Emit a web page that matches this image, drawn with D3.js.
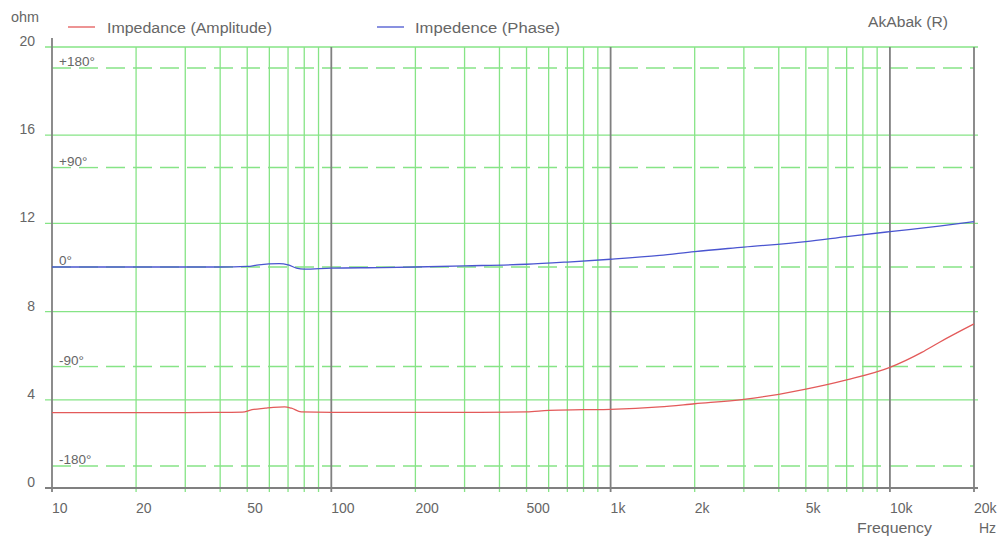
<!DOCTYPE html>
<html><head><meta charset="utf-8">
<script src="https://cdn.jsdelivr.net/npm/d3@7"></script>
<style>body{margin:0;background:#fff}svg{display:block}text{font-family:"Liberation Sans",Arial,sans-serif;fill:#666}</style>
</head><body><svg id="c" width="1001" height="539"></svg>
<script>
// Data
const ampFreq = [10,20,30,40,48,52,58,62,68,72,78,100,200,300,500,600,800,1000,1500,2000,3000,4000,5000,7000,10000,13000,15000,20000];
const ampOhm  = [3.42,3.42,3.42,3.43,3.44,3.55,3.62,3.66,3.68,3.62,3.45,3.43,3.43,3.43,3.45,3.52,3.55,3.57,3.68,3.82,4.02,4.25,4.48,4.9,5.47,6.15,6.6,7.44];
const phaseFreq = [10,20,40,50,55,65,70,75,80,100,150,200,300,500,700,1000,1500,2000,3000,5000,7000,10000,15000,20000];
const phaseDeg  = [0,0,0,0.5,2,3,2,-1,-2,-1,-0.5,0,1,2.5,4.5,7,10.5,14,18,23,27.5,32,37,41];
const ohmTicks = [0,4,8,12,16,20];
const phaseTicks = [180,90,0,-90,-180];
const phaseLabels = ["+180°","+90°","0°","-90°","-180°"];
const freqLabelTicks = [10,20,50,100,200,500,1000,2000,5000,10000,20000];
const freqLabels = ["10","20","50","100","200","500","1k","2k","5k","10k","20k"];
const majorFreqs = [10,100,1000,10000,20000];

const svg = d3.select("#c");
const x = d3.scaleLog().domain([10,20000]).range([52,974]);
const y = d3.scaleLinear().domain([0,20]).range([488,47]);
const yp = d3.scaleLinear().domain([-180,180]).range([466,68]);
const green = "#86e486", gray = "#808080";

const allFreqs = [];
[10,100,1000].forEach(d=>{for(let k=2;k<=9;k++) allFreqs.push(d*k);});
allFreqs.push(10000);
const minor = allFreqs.filter(f=>!majorFreqs.includes(f));

svg.append("g").selectAll("line").data(ohmTicks.filter(t=>t>0)).join("line")
  .attr("x1",45).attr("x2",978).attr("y1",d=>y(d)).attr("y2",d=>y(d))
  .attr("stroke",green).attr("stroke-width",1.3);
svg.append("g").selectAll("line").data(minor).join("line")
  .attr("x1",d=>x(d)).attr("x2",d=>x(d)).attr("y1",y(20)).attr("y2",y(0)+4)
  .attr("stroke",green).attr("stroke-width",1.3);
svg.append("g").selectAll("line").data(phaseTicks).join("line")
  .attr("x1",52).attr("x2",974).attr("y1",d=>yp(d)).attr("y2",d=>yp(d))
  .attr("stroke",green).attr("stroke-width",1.3).attr("stroke-dasharray","19,8");
svg.append("g").selectAll("line").data(majorFreqs.slice(1)).join("line")
  .attr("x1",d=>x(d)).attr("x2",d=>x(d)).attr("y1",y(20)).attr("y2",y(0)+4)
  .attr("stroke",gray).attr("stroke-width",1.8);
svg.append("line").attr("x1",x(10)).attr("x2",x(10)).attr("y1",38).attr("y2",y(0)+4)
  .attr("stroke",gray).attr("stroke-width",1.8);
svg.append("line").attr("x1",45).attr("x2",978).attr("y1",y(0)).attr("y2",y(0))
  .attr("stroke",gray).attr("stroke-width",1.8);

// phase labels with white background
const pl = svg.append("g").selectAll("g").data(phaseTicks).join("g");
pl.append("rect").attr("x",55).attr("y",d=>yp(d)-14).attr("height",13)
  .attr("width",(d,i)=>phaseLabels[i].length*8+12).attr("fill","#fff");
pl.append("text").attr("x",59).attr("y",d=>yp(d)-2).attr("font-size",13.5)
  .text((d,i)=>phaseLabels[i]);

// curves
const lineA = d3.line().x((d,i)=>x(ampFreq[i])).y(d=>y(d)).curve(d3.curveMonotoneX);
svg.append("path").attr("d",lineA(ampOhm)).attr("fill","none").attr("stroke","#e35a5a").attr("stroke-width",1.3);
const lineP = d3.line().x((d,i)=>x(phaseFreq[i])).y(d=>yp(d)).curve(d3.curveMonotoneX);
svg.append("path").attr("d",lineP(phaseDeg)).attr("fill","none").attr("stroke","#4a55d0").attr("stroke-width",1.3);

// y labels
svg.append("g").selectAll("text").data(ohmTicks).join("text")
  .attr("x",35).attr("y",d=>y(d)-1).attr("text-anchor","end").attr("font-size",14).text(d=>d);
svg.append("text").attr("x",11).attr("y",22).attr("font-size",14).attr("textLength",28).attr("lengthAdjust","spacingAndGlyphs").text("ohm");

// x labels
svg.append("g").selectAll("text").data(freqLabelTicks).join("text")
  .attr("x",d=>x(d)).attr("y",513).attr("font-size",14).text((d,i)=>freqLabels[i]);
svg.append("text").attr("x",857).attr("y",533).attr("font-size",14).attr("textLength",75).attr("lengthAdjust","spacingAndGlyphs").text("Frequency");
svg.append("text").attr("x",979).attr("y",533).attr("font-size",14).text("Hz");

// legend
svg.append("line").attr("x1",68).attr("x2",95).attr("y1",27).attr("y2",27).attr("stroke","#e35a5a").attr("stroke-width",1.3);
svg.append("text").attr("x",107).attr("y",33).attr("font-size",14).attr("textLength",165).attr("lengthAdjust","spacingAndGlyphs").text("Impedance (Amplitude)");
svg.append("line").attr("x1",377).attr("x2",404).attr("y1",27).attr("y2",27).attr("stroke","#4a55d0").attr("stroke-width",1.3);
svg.append("text").attr("x",415).attr("y",33).attr("font-size",14).attr("textLength",145).attr("lengthAdjust","spacingAndGlyphs").text("Impedence (Phase)");
svg.append("text").attr("x",868).attr("y",27).attr("font-size",14).attr("textLength",80).attr("lengthAdjust","spacingAndGlyphs").text("AkAbak (R)");
</script></body></html>
